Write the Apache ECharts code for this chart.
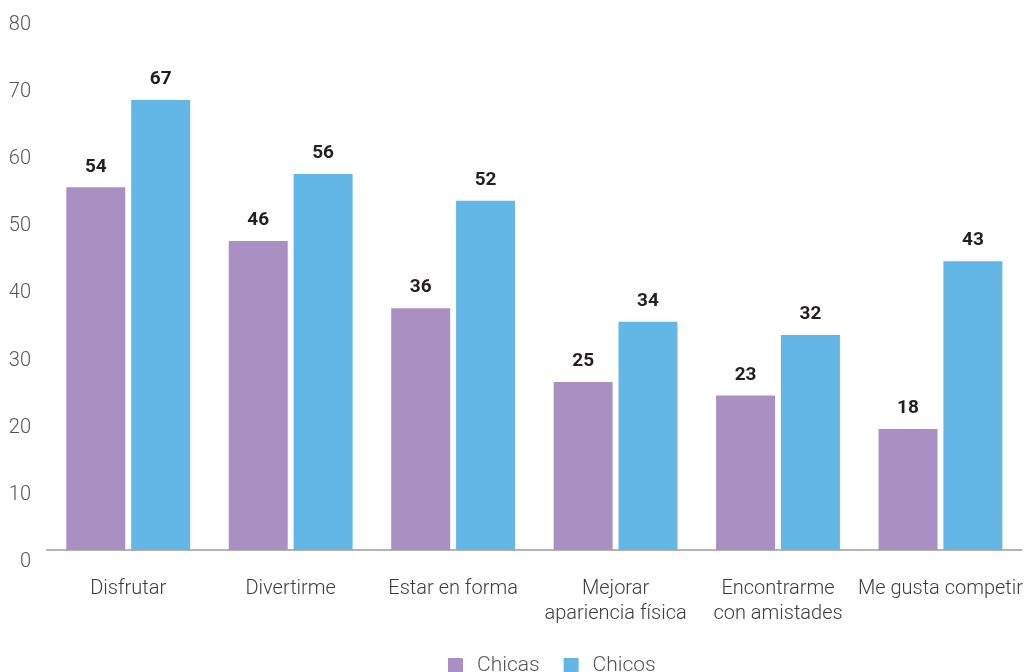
<!DOCTYPE html>
<html>
<head>
<meta charset="utf-8">
<script src="https://cdn.jsdelivr.net/npm/echarts@6/dist/echarts.min.js"></script>
<style>
  html, body { margin: 0; padding: 0; background: #ffffff; }
  #chart { width: 1026px; height: 672px; }
</style>
</head>
<body>
<div id="chart"></div>
<script>
// Motivos para practicar deporte, % por sexo
const categories = [
  'Disfrutar',
  'Divertirme',
  'Estar en forma',
  'Mejorar\napariencia física',
  'Encontrarme\ncon amistades',
  'Me gusta competir'
];
const chicas = [54, 46, 36, 25, 23, 18];
const chicos = [67, 56, 52, 34, 32, 43];
const yTicks = { min: 0, max: 80, interval: 10 };

const FONT = 'Roboto, "DejaVu Sans", sans-serif';

const valueLabel = {
  show: true,
  position: 'top',
  distance: 11,
  color: '#231f20',
  fontFamily: FONT,
  fontWeight: 'bold',
  fontSize: 19
};

const chart = echarts.init(document.getElementById('chart'), null, { renderer: 'canvas' });
chart.setOption({
  animation: false,
  backgroundColor: '#ffffff',
  grid: { left: 47, right: 4, top: 12.7, bottom: 122, containLabel: false },
  legend: {
    data: ['Chicas', 'Chicos'],
    left: 443,
    top: 650,
    padding: 5,
    icon: 'rect',
    itemWidth: 15,
    itemHeight: 15,
    itemGap: 24,
    textStyle: { color: '#555555', fontFamily: FONT, fontSize: 21, fontWeight: 300, padding: [0, 0, 0, 9] }
  },
  xAxis: {
    type: 'category',
    data: categories,
    axisLine: { show: true, lineStyle: { color: '#b3b3b3', width: 2 } },
    axisTick: { show: false },
    axisLabel: {
      interval: 0,
      margin: 26,
      color: '#3c3c3c',
      fontFamily: FONT,
      fontSize: 20,
      fontWeight: 300,
      lineHeight: 25
    }
  },
  yAxis: {
    type: 'value',
    min: yTicks.min,
    max: yTicks.max,
    interval: yTicks.interval,
    axisLine: { show: false },
    axisTick: { show: false },
    splitLine: { show: false },
    axisLabel: {
      margin: 16,
      verticalAlign: 'top',
      padding: [2, 0, 0, 0],
      color: '#555555',
      fontFamily: FONT,
      fontSize: 20,
      fontWeight: 300
    }
  },
  series: [
    {
      name: 'Chicas',
      type: 'bar',
      data: chicas,
      barWidth: '36.3%',
      barGap: '10%',
      itemStyle: { color: '#aa8fc3' },
      label: valueLabel
    },
    {
      name: 'Chicos',
      type: 'bar',
      data: chicos,
      barWidth: '36.3%',
      barGap: '10%',
      itemStyle: { color: '#63b7e6' },
      label: valueLabel
    }
  ]
});
</script>
</body>
</html>
